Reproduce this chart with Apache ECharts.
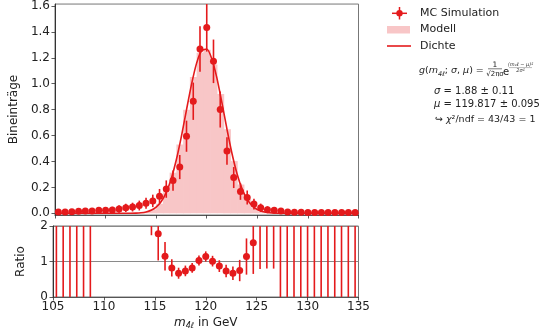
<!DOCTYPE html>
<html><head><meta charset="utf-8">
<script src="https://cdn.jsdelivr.net/npm/echarts@6/dist/echarts.min.js"></script>
<style>html,body{margin:0;padding:0;background:#fff}#c{width:545px;height:335px}</style>
</head><body><div id="c"></div>
<script>
// ---- data ----
const BIN_W = 0.6667;
const binCenters = [105.333,106.000,106.667,107.333,108.000,108.667,109.333,110.000,110.667,111.333,
  112.000,112.667,113.333,114.000,114.667,115.333,116.000,116.667,117.333,118.000,
  118.667,119.333,120.000,120.667,121.333,122.000,122.667,123.333,124.000,124.667,
  125.333,126.000,126.667,127.333,128.000,128.667,129.333,130.000,130.667,131.333,
  132.000,132.667,133.333,134.000,134.667];
const mcValues = [0.011,0.011,0.012,0.015,0.018,0.018,0.023,0.023,0.025,0.034,
  0.042,0.048,0.060,0.078,0.096,0.132,0.187,0.253,0.357,0.595,
  0.865,1.268,1.434,1.173,0.801,0.481,0.276,0.168,0.122,0.071,
  0.043,0.028,0.023,0.018,0.011,0.009,0.008,0.007,0.007,0.007,
  0.006,0.006,0.006,0.006,0.006];
const mcErrors = [0.016,0.016,0.017,0.019,0.021,0.021,0.024,0.024,0.025,0.029,
  0.032,0.034,0.038,0.043,0.048,0.056,0.067,0.078,0.093,0.120,
  0.144,0.175,0.186,0.168,0.139,0.107,0.081,0.064,0.054,0.041,
  0.032,0.026,0.024,0.021,0.016,0.015,0.014,0.013,0.013,0.013,
  0.012,0.012,0.012,0.012,0.012];
const modelValues = [0,0,0,0,0,0,0,0,0,0,
  0.0002,0.001,0.003,0.011,0.030,0.074,0.162,0.314,0.531,0.799,
  1.052,1.240,1.262,1.149,0.921,0.649,0.403,0.222,0.107,0.046,
  0.017,0.006,0.002,0,0,0,0,0,0,0,
  0,0,0,0,0];
const curveX = [105,106,107,108,109,110,110.5,111,111.5,112,112.5,113,113.5,114,114.5,115,115.5,116,116.5,117,117.5,
  118,118.5,119,119.5,120,120.5,121,121.5,122,122.5,123,123.5,124,124.5,125,125.5,126,126.5,127,127.5,128,129,130,131,132,133,134,135];
const curveY = [0,0,0,0,0,0,0.000005,0.00002,0.00007,0.0002,0.0007,0.0018,0.0045,0.0106,0.0234,0.0478,0.0913,0.162,0.269,0.415,0.596,
  0.799,0.997,1.159,1.256,1.268,1.193,1.045,0.854,0.649,0.460,0.304,0.187,0.107,0.057,0.0285,0.0132,0.0057,0.0023,0.0009,0.0003,0.0001,0,0,0,0,0,0,0];
const ratioValues = [2e9,4e8,9e7,2e7,5e6,1e6,3e5,8e4,2e4,4e3,
  186,49,17,7.1,3.2,1.78,1.15,0.82,0.67,0.735,
  0.82,1.03,1.14,1.01,0.87,0.73,0.67,0.745,1.14,1.53,
  2.5,4.9,13.5,45,120,500,2e3,1e4,5e4,3e5,
  2e6,1e7,8e7,6e8,5e9];
const ratioErrors = [3e9,6e8,1.4e8,3e7,8e6,1.6e6,2e5,5e4,1.3e4,2.5e3,
  140,35,11,4,1.46,0.75,0.40,0.24,0.155,0.15,
  0.14,0.14,0.145,0.15,0.165,0.175,0.19,0.30,0.51,0.88,
  1.71,4.1,12.7,60,160,700,3e3,1.5e4,7e4,4e5,
  3e6,1.5e7,1.2e8,9e8,7e9];
const yTicksTop = [0,0.2,0.4,0.6,0.8,1.0,1.2,1.4,1.6];

// ---- style ----
const RED = '#e41a1c', PINK = '#f8c6c7', FONT = 'DejaVu Sans';
const TOP_MIN = -0.013, TOP_MAX = 1.615, R_MIN = 0, R_MAX = 2;

function errRender(lo0, hi0) {
  return function (params, api) {
    const x = api.value(0), v = api.value(1), e = api.value(2);
    const lo = Math.max(v - e, lo0), hi = Math.min(v + e, hi0);
    if (!(hi > lo)) return null;
    const a = api.coord([x, lo]), b = api.coord([x, hi]);
    return {type: 'line', shape: {x1: a[0], y1: a[1], x2: b[0], y2: b[1]},
      style: {stroke: RED, lineWidth: 1.6}};
  };
}

const chart = echarts.init(document.getElementById('c'));
const tickStyle = {show: true, inside: false, length: 3.5, lineStyle: {color: '#333', width: 0.8}};
const labelStyle = {fontSize: 12, fontFamily: FONT, color: '#222'};

chart.setOption({
  animation: false,
  grid: [
    {left: 53, top: 3, width: 305.5, height: 212, show: true, borderColor: '#777', borderWidth: 1, containLabel: false},
    {left: 53, top: 226, width: 305.5, height: 71, show: true, borderColor: '#777', borderWidth: 1, containLabel: false}
  ],
  xAxis: [
    {gridIndex: 0, type: 'value', min: 105, max: 135, interval: 5,
      axisLine: {show: true, onZero: false, lineStyle: {color: '#555'}},
      axisTick: tickStyle, axisLabel: {show: false}, splitLine: {show: false}},
    {gridIndex: 1, type: 'value', min: 105, max: 135, interval: 5,
      axisLine: {show: true, onZero: false, lineStyle: {color: '#555'}},
      axisTick: tickStyle, axisLabel: Object.assign({margin: 4}, labelStyle), splitLine: {show: false},
      name: '{i|m}{s|4ℓ} in GeV', nameLocation: 'middle', nameGap: 19,
      nameTextStyle: {fontSize: 12, fontFamily: FONT, color: '#222',
        rich: {i: {fontStyle: 'italic', fontSize: 12, fontFamily: FONT, color: '#222'},
               s: {fontStyle: 'italic', fontSize: 8, fontFamily: FONT, color: '#222', verticalAlign: 'bottom', lineHeight: 14}}}}
  ],
  yAxis: [
    {gridIndex: 0, type: 'value', min: TOP_MIN, max: TOP_MAX,
      axisLine: {show: true, lineStyle: {color: '#333'}},
      axisTick: Object.assign({customValues: yTicksTop}, tickStyle),
      axisLabel: Object.assign({customValues: yTicksTop, margin: 5, formatter: v => v.toFixed(1)}, labelStyle),
      splitLine: {show: false},
      name: 'Bineinträge', nameLocation: 'middle', nameGap: 26,
      nameTextStyle: {fontSize: 12, fontFamily: FONT, color: '#222'}},
    {gridIndex: 1, type: 'value', min: R_MIN, max: R_MAX, interval: 1,
      axisLine: {show: true, lineStyle: {color: '#333'}},
      axisTick: tickStyle, axisLabel: Object.assign({margin: 5}, labelStyle),
      splitLine: {show: true, lineStyle: {color: '#8a8a8a', width: 1}},
      name: 'Ratio', nameLocation: 'middle', nameGap: 26,
      nameTextStyle: {fontSize: 12, fontFamily: FONT, color: '#222'}}
  ],
  series: [
    {type: 'custom', name: 'Modell', xAxisIndex: 0, yAxisIndex: 0, z: 1,
      data: binCenters.map((c, i) => [c, modelValues[i]]),
      renderItem: function (params, api) {
        const c = api.value(0), v = api.value(1);
        if (!(v > 0)) return null;
        const a = api.coord([c - BIN_W / 2, v]), b = api.coord([c + BIN_W / 2, 0]);
        return {type: 'rect', shape: {x: a[0], y: a[1], width: b[0] - a[0] + 0.6, height: b[1] - a[1]},
          style: {fill: PINK}};
      }},
    {type: 'line', name: 'Dichte', xAxisIndex: 0, yAxisIndex: 0, z: 2,
      data: curveX.map((x, i) => [x, curveY[i]]), showSymbol: false, smooth: 0.2,
      lineStyle: {color: RED, width: 1.6}},
    {type: 'custom', name: 'MC err', xAxisIndex: 0, yAxisIndex: 0, z: 3,
      data: binCenters.map((c, i) => [c, mcValues[i], mcErrors[i]]),
      renderItem: errRender(TOP_MIN, TOP_MAX)},
    {type: 'scatter', name: 'MC Simulation', xAxisIndex: 0, yAxisIndex: 0, z: 4,
      data: binCenters.map((c, i) => [c, mcValues[i]]), symbolSize: 7,
      itemStyle: {color: RED, opacity: 1}},
    {type: 'custom', name: 'Ratio err', xAxisIndex: 1, yAxisIndex: 1, z: 3,
      data: binCenters.map((c, i) => [c, ratioValues[i], ratioErrors[i]]),
      renderItem: errRender(R_MIN, R_MAX)},
    {type: 'scatter', name: 'Ratio', xAxisIndex: 1, yAxisIndex: 1, z: 4, clip: true,
      data: binCenters.map((c, i) => [c, ratioValues[i]]).filter(d => d[1] >= R_MIN && d[1] <= R_MAX),
      symbolSize: 7, itemStyle: {color: RED, opacity: 1}}
  ],
  graphic: [
    {type: 'line', shape: {x1: 399.5, y1: 7, x2: 399.5, y2: 19.5}, style: {stroke: RED, lineWidth: 1.5}},
    {type: 'line', shape: {x1: 392, y1: 13.3, x2: 407, y2: 13.3}, style: {stroke: RED, lineWidth: 1.5}},
    {type: 'circle', shape: {cx: 399.5, cy: 13.3, r: 3.2}, style: {fill: RED}},
    {type: 'text', x: 420, y: 13.3, style: {text: 'MC Simulation', fontSize: 11, fontFamily: FONT, fill: '#222', verticalAlign: 'middle'}},
    {type: 'rect', shape: {x: 387, y: 26, width: 23, height: 7.5}, style: {fill: PINK}},
    {type: 'text', x: 420, y: 29.5, style: {text: 'Modell', fontSize: 11, fontFamily: FONT, fill: '#222', verticalAlign: 'middle'}},
    {type: 'line', shape: {x1: 387, y1: 46, x2: 411, y2: 46}, style: {stroke: RED, lineWidth: 1.6}},
    {type: 'text', x: 420, y: 45.8, style: {text: 'Dichte', fontSize: 11, fontFamily: FONT, fill: '#222', verticalAlign: 'middle'}},
    // formula
    {type: 'text', x: 419, y: 71, style: {
      text: '{i|g}{n|(}{i|m}{s|4ℓ}{n|; }{i|σ}{n|, }{i|μ}{n|) = }', verticalAlign: 'middle',
      rich: {i: {fontSize: 9.5, fontFamily: FONT, fontStyle: 'italic', fill: '#222'},
             n: {fontSize: 9.5, fontFamily: FONT, fill: '#222'},
             s: {fontSize: 6.5, fontFamily: FONT, fontStyle: 'italic', fill: '#222', verticalAlign: 'bottom', lineHeight: 13}}}},
    {type: 'text', x: 495, y: 65, style: {text: '1', fontSize: 7.5, fontFamily: FONT, fill: '#222', align: 'center', verticalAlign: 'middle'}},
    {type: 'line', shape: {x1: 488, y1: 68.8, x2: 502, y2: 68.8}, style: {stroke: '#222', lineWidth: 0.6}},
    {type: 'text', x: 495, y: 74, style: {text: '√2πσ', fontSize: 7, fontFamily: FONT, fill: '#222', align: 'center', verticalAlign: 'middle'}},
    {type: 'text', x: 503, y: 72, style: {text: 'e', fontSize: 10, fontFamily: FONT, fill: '#222', verticalAlign: 'middle'}},
    {type: 'text', x: 520.5, y: 65, style: {text: '(m₄ℓ − μ)²', fontSize: 5, fontFamily: FONT, fontStyle: 'italic', fill: '#333', align: 'center', verticalAlign: 'middle'}},
    {type: 'line', shape: {x1: 509, y1: 67.6, x2: 532, y2: 67.6}, style: {stroke: '#555', lineWidth: 0.4}},
    {type: 'text', x: 520.5, y: 70.3, style: {text: '2σ²', fontSize: 5, fontFamily: FONT, fontStyle: 'italic', fill: '#333', align: 'center', verticalAlign: 'middle'}},
    {type: 'text', x: 434, y: 91, style: {text: '{i|σ} = 1.88 ± 0.11', fontSize: 10, fontFamily: FONT, fill: '#222', verticalAlign: 'middle',
      rich: {i: {fontSize: 10, fontFamily: FONT, fontStyle: 'italic', fill: '#222'}}}},
    {type: 'text', x: 434, y: 104.5, style: {text: '{i|μ} = 119.817 ± 0.095', fontSize: 10, fontFamily: FONT, fill: '#222', verticalAlign: 'middle',
      rich: {i: {fontSize: 10, fontFamily: FONT, fontStyle: 'italic', fill: '#222'}}}},
    {type: 'text', x: 435, y: 119.5, style: {text: '↪ {i|χ}²/ndf = 43/43 = 1', fontSize: 9.5, fontFamily: FONT, fill: '#222', verticalAlign: 'middle',
      rich: {i: {fontSize: 9.5, fontFamily: FONT, fontStyle: 'italic', fill: '#222'}}}}
  ]
});
</script>
</body></html>
